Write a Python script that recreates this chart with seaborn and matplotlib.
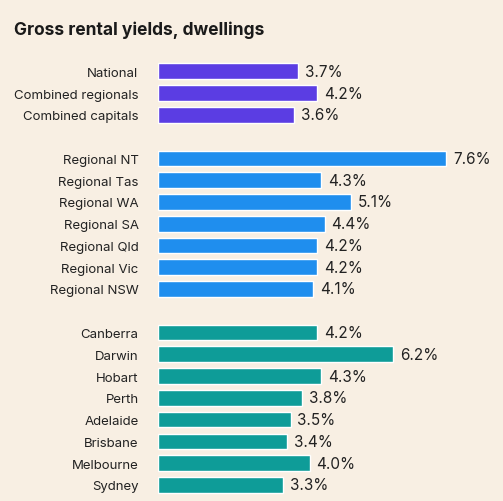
import matplotlib
matplotlib.use("Agg")
import matplotlib.pyplot as plt
import pandas as pd
import seaborn as sns

LABELS_NATIONAL = ["National", "Combined regionals", "Combined capitals"]
VALUES_NATIONAL = [3.7, 4.2, 3.6]
LABELS_REGIONAL = ["Regional NT", "Regional Tas", "Regional WA", "Regional SA",
                   "Regional Qld", "Regional Vic", "Regional NSW"]
VALUES_REGIONAL = [7.6, 4.3, 5.1, 4.4, 4.2, 4.2, 4.1]
LABELS_CAPITALS = ["Canberra", "Darwin", "Hobart", "Perth", "Adelaide",
                   "Brisbane", "Melbourne", "Sydney"]
VALUES_CAPITALS = [4.2, 6.2, 4.3, 3.8, 3.5, 3.4, 4.0, 3.3]

BG = "#F8EFE3"
COLORS = {"national": "#5B3DE3", "regional": "#1F8EEE", "capitals": "#0E9C98"}

rows = []
pos = 0
for group, labels, values in [("national", LABELS_NATIONAL, VALUES_NATIONAL),
                              ("regional", LABELS_REGIONAL, VALUES_REGIONAL),
                              ("capitals", LABELS_CAPITALS, VALUES_CAPITALS)]:
    for lab, v in zip(labels, values):
        rows.append({"label": lab, "value": v, "pos": pos, "group": group})
        pos += 1
    pos += 1
df = pd.DataFrame(rows)

sns.set_theme(style="white")
plt.rcParams["font.family"] = ["Inter", "DejaVu Sans"]

fig = plt.figure(figsize=(5.03, 5.02), dpi=100, facecolor=BG)
ax = fig.add_axes([158 / 503, 0.006, 340 / 503, 0.876])
ax.set_facecolor(BG)

sns.barplot(data=df, x="value", y="pos", hue="group", palette=COLORS,
            orient="h", native_scale=True, width=0.72, dodge=False,
            legend=False, ax=ax, saturation=1)

for _, r in df.iterrows():
    ax.text(r["value"] + 0.18, r["pos"], f"{r['value']:.1f}%", va="center",
            ha="left", fontsize=11, color="#222222")

ax.set_xlim(0, 8.97)
ax.set_ylim(19.6, -0.6)
ax.set_yticks(df["pos"])
ax.set_yticklabels(df["label"], fontsize=9.5, color="#222222")
ax.tick_params(axis="y", length=0, pad=14)
ax.set_xticks([])
ax.set_xlabel("")
ax.set_ylabel("")
for s in ax.spines.values():
    s.set_visible(False)

fig.text(14 / 503, 1 - 30 / 502, "Gross rental yields, dwellings",
         fontsize=12.5, fontweight="bold", color="#1a1a1a", va="center")

fig.savefig("out.png", dpi=100, facecolor=BG)
